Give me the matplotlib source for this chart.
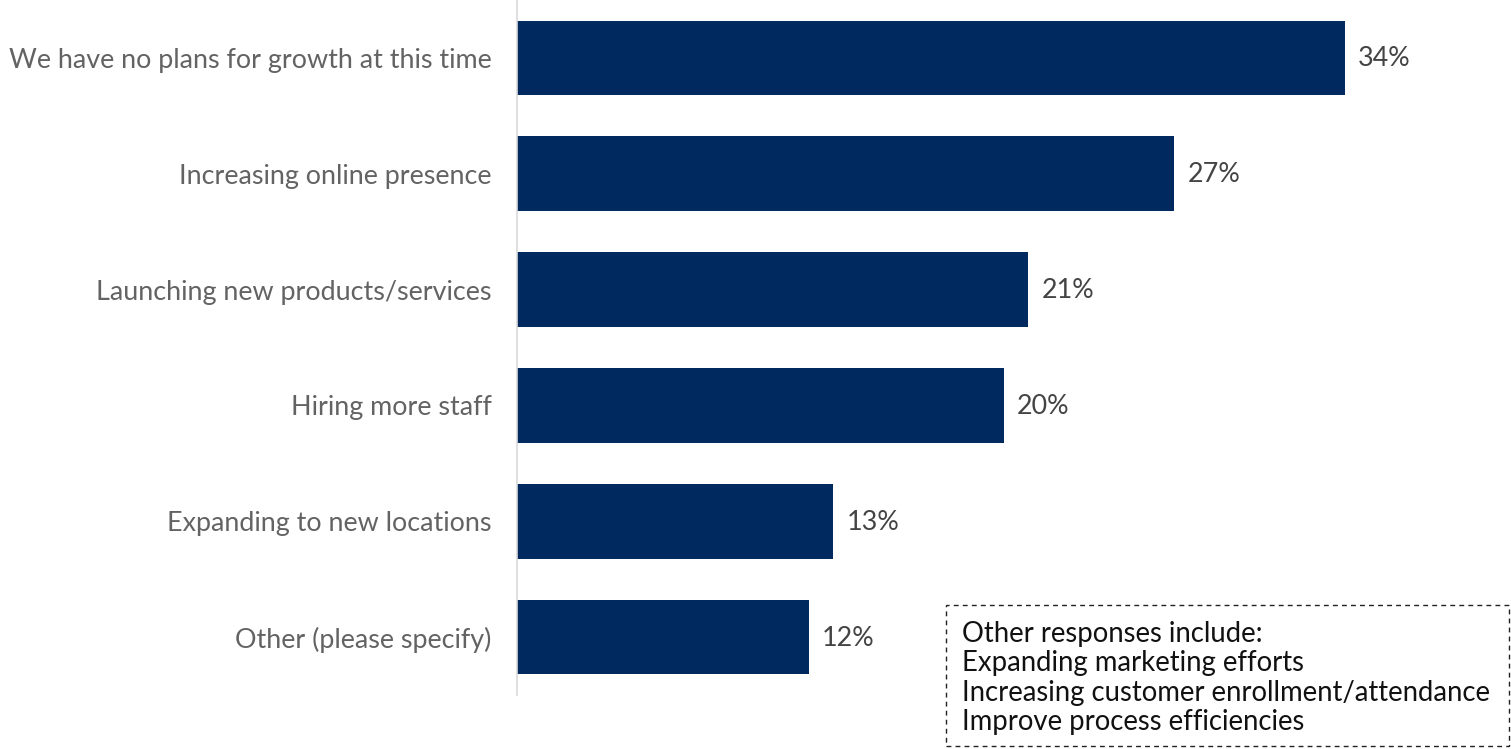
import matplotlib
matplotlib.use("Agg")
import matplotlib.pyplot as plt

categories = [
    "We have no plans for growth at this time",
    "Increasing online presence",
    "Launching new products/services",
    "Hiring more staff",
    "Expanding to new locations",
    "Other (please specify)",
]
values = [34, 27, 21, 20, 13, 12]
value_labels = ["34%", "27%", "21%", "20%", "13%", "12%"]
other_notes = [
    "Other responses include:",
    "Expanding marketing efforts",
    "Increasing customer enrollment/attendance",
    "Improve process efficiencies",
]

plt.rcParams["font.family"] = ["Lato", "DejaVu Sans"]

W, H = 1511, 749
fig = plt.figure(figsize=(W / 100, H / 100), dpi=100)
left_px, top_px, bottom_px = 516.5, 0, 695
ax = fig.add_axes([left_px / W, 1 - bottom_px / H, (W - left_px) / W, (bottom_px - top_px) / H])

bar_color = "#002960"
pos = list(range(len(categories)))
ax.barh(pos, values, height=0.645, color=bar_color, edgecolor="none")
ax.set_ylim(len(categories) - 0.5, -0.5)
ax.set_xlim(0, (W - left_px) / 24.37)

for p, v, lab in zip(pos, values, value_labels):
    ax.annotate(lab, (v, p), xytext=(13, -1), textcoords="offset pixels",
                va="center", ha="left", fontsize=19.4, color="#444444")

ax.set_yticks(pos)
ax.set_yticklabels(categories, fontsize=19.4, color="#636363")
ax.tick_params(axis="y", length=0, pad=18)
ax.set_xticks([])
for s in ["top", "right", "bottom"]:
    ax.spines[s].set_visible(False)
ax.spines["left"].set_color("#d9d9d9")
ax.spines["left"].set_linewidth(1.2)

# dashed box listing the other responses
bx0, by0, bx1, by1 = 946, 605, 1509, 746
fig.patches.append(plt.Rectangle((bx0 / W, 1 - by1 / H), (bx1 - bx0) / W, (by1 - by0) / H,
                                 transform=fig.transFigure, fill=False, edgecolor="#222222",
                                 linestyle=(0, (3.5, 3)), linewidth=1.0))
for i, line in enumerate(other_notes):
    fig.text(962 / W, 1 - (634 + 29.3 * i) / H, line, fontsize=19.8, color="#111111",
             va="center", ha="left")

fig.savefig("out.png", dpi=100)
